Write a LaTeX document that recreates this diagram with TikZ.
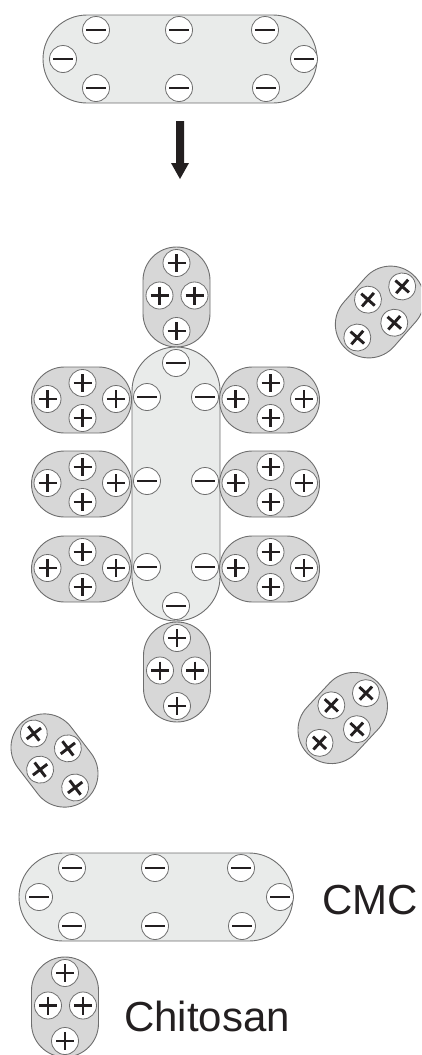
\documentclass[tikz,border=0pt]{standalone}
\usepackage{fontspec}
\setmainfont{Liberation Sans}
\definecolor{cmcgray}{HTML}{E9EBEA}
\definecolor{chigray}{HTML}{D7D7D7}
\definecolor{linegray}{HTML}{6E6E6E}
\definecolor{signblack}{HTML}{231F20}
\tikzset{
  bodycmc/.style={fill=cmcgray, draw=linegray, line width=0.9bp},
  bodychi/.style={fill=chigray, draw=linegray, line width=0.9bp},
  ionc/.style={fill=white, draw=linegray, line width=0.8bp},
  sgn/.style={draw=signblack, line width=2.9bp},
  lbl/.style={inner sep=0pt, text=signblack, font=\fontsize{42bp}{42bp}\selectfont},
  pics/cmc/.style={code={
    \path[bodycmc, rounded corners=44bp] (-137,-44) rectangle (137,44);
    \IonMinus{-84}{-29}\IonMinus{-1}{-29}\IonMinus{85}{-29}
    \IonMinus{-84}{29}\IonMinus{-1}{29}\IonMinus{86}{29}
    \IonMinus{-117}{0}\IonMinus{124}{0}
  }},
  pics/chiv/.style={code={
    \path[bodychi, rounded corners=33.5bp] (-33.5,-50) rectangle (33.5,50);
    \IonPlus{0}{-34}\IonPlus{-17}{-1.5}\IonPlus{18}{-1.5}\IonPlus{0}{34}
  }},
  pics/chih/.style={code={
    \path[bodychi, rounded corners=33bp] (-50,-33) rectangle (50,33);
    \IonPlus{-34}{-1}\IonPlus{1}{-17}\IonPlus{1}{18}\IonPlus{34.5}{-1}
  }},
}
\newcommand\IonMinus[2]{%
  \path[ionc] (#1,#2) circle[radius=13.5];
  \draw[sgn] (#1,#2) +(-10,0) -- +(10,0);}
\newcommand\IonPlus[2]{%
  \path[ionc] (#1,#2) circle[radius=13.5];
  \draw[sgn] (#1,#2) +(-9,0) -- +(9,0) (#1,#2) +(0,-9) -- +(0,9);}
\begin{document}
\begin{tikzpicture}[x=1bp,y=-1bp]
\useasboundingbox (0,0) rectangle (421,1055);
\clip (0,0) rectangle (421,1055);
% top CMC
\pic (cmctop) at (180,59) {cmc};
% arrow
\fill[signblack] (176,121) -- (184,121) -- (184,163) -- (189,163) -- (180,179)
  -- (171,163) -- (176,163) -- cycle;
% central complex
\pic (chitop) at (176.5,297) {chiv};
\pic (chibot) at (177,672) {chiv};
\begin{scope}
\path[bodycmc, rounded corners=44bp] (132,347) rectangle (220,621);
\IonMinus{176}{363}
\IonMinus{147}{397}\IonMinus{205}{397}
\IonMinus{147}{481}\IonMinus{205}{481}
\IonMinus{147}{567}\IonMinus{205}{567}
\IonMinus{176}{606}
\end{scope}
\pic (chil1) at (81.5,400) {chih};
\pic (chil2) at (81.5,484) {chih};
\pic (chil3) at (81.5,569) {chih};
\pic (chir1) at (269.5,400) {chih};
\pic (chir2) at (269.5,484) {chih};
\pic (chir3) at (269.5,569) {chih};
% free chitosan pieces
\pic[rotate=-41.3] (frtr) at (379.75,312) {chiv};
\pic[rotate=-43] (frmr) at (342.75,718) {chiv};
\pic[rotate=37.4] (frbl) at (54.5,760.5) {chiv};
% legend
\pic (cmcleg) at (156,897) {cmc};
\node[lbl, anchor=base west] (cmclbl) at (322,914) {CMC};
\pic (chileg) at (65,1007) {chiv};
\node[lbl, anchor=base west] (chilbl) at (124,1031) {Chitosan};
\end{tikzpicture}
\end{document}
